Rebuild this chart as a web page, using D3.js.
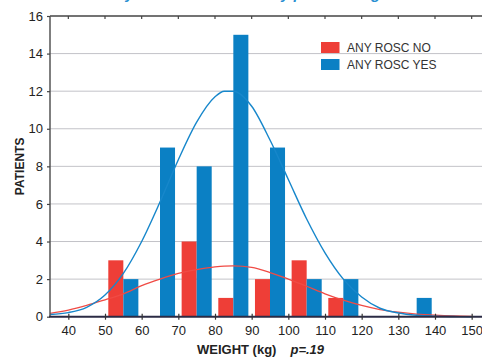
<!DOCTYPE html>
<html>
<head>
<meta charset="utf-8">
<script src="https://cdn.jsdelivr.net/npm/d3@7"></script>
<style>
  body { margin: 0; background: #fff; }
  svg { display: block; font-family: "Liberation Sans", Arial, sans-serif; }
</style>
</head>
<body>
<div id="chart"></div>
<script>
// Data
const binStarts = [50, 60, 70, 80, 90, 100, 110, 120, 130];
const roscNo = [3, 0, 4, 1, 2, 3, 1, 0, 0];
const roscYes = [2, 9, 8, 15, 9, 2, 2, 0, 1];

const curveWeights = [35, 40, 45, 50, 55, 60, 65, 70, 75, 80, 82.5, 85, 90, 95, 100, 105, 110, 115, 120, 125, 130, 135, 140, 145, 150];
const curveYes = [0.12, 0.22, 0.5, 1.15, 2.3, 4.0, 6.1, 8.35, 10.35, 11.7, 12.0, 12.0, 11.2, 9.4, 7.3, 5.2, 3.4, 2.0, 1.05, 0.45, 0.2, 0.08, 0.03, 0.01, 0];
const curveNo = [0.18, 0.35, 0.6, 0.9, 1.22, 1.65, 2.0, 2.3, 2.5, 2.65, 2.69, 2.7, 2.62, 2.35, 2.0, 1.62, 1.22, 0.88, 0.6, 0.38, 0.24, 0.14, 0.08, 0.04, 0.02];

const xTicks = [40, 50, 60, 70, 80, 90, 100, 110, 120, 130, 140, 150];
const yTicks = [0, 2, 4, 6, 8, 10, 12, 14, 16];
const legendLabels = ["ANY ROSC NO", "ANY ROSC YES"];

const RED = "#ee3e37";
const BLUE = "#0b80c4";

const W = 482, H = 363;
const svg = d3.select("#chart").append("svg")
    .attr("width", W)
    .attr("height", H);

const x = d3.scaleLinear().domain([35, 155]).range([50, 490]);
const y = d3.scaleLinear().domain([0, 16]).range([316.7, 16]);

// Title (only its lower edge shows at the top of the picture)
svg.append("text")
    .attr("x", 250)
    .attr("y", -1)
    .attr("text-anchor", "middle")
    .style("font-size", "15px")
    .style("font-weight", "bold")
    .style("font-style", "italic")
    .style("fill", "#2a8fd2")
    .text("Any ROSC distribution by patient weight");

// Gridlines
svg.append("g")
    .selectAll("line")
    .data(yTicks.filter(d => d > 0 && d < 16))
    .join("line")
    .attr("x1", 50).attr("x2", W)
    .attr("y1", d => y(d)).attr("y2", d => y(d))
    .style("stroke", "#c3c3c8")
    .style("stroke-width", 1);

// Bars
const bars = svg.append("g");
bars.selectAll("rect.no")
    .data(binStarts.map((b, i) => ({ b, v: roscNo[i] })).filter(d => d.v > 0))
    .join("rect")
    .attr("class", "no")
    .attr("x", d => x(d.b + 0.9))
    .attr("width", d => x(d.b + 5) - x(d.b + 0.9))
    .attr("y", d => y(d.v))
    .attr("height", d => y(0) - y(d.v))
    .style("fill", RED);

bars.selectAll("rect.yes")
    .data(binStarts.map((b, i) => ({ b, v: roscYes[i] })).filter(d => d.v > 0))
    .join("rect")
    .attr("class", "yes")
    .attr("x", d => x(d.b + 5))
    .attr("width", d => x(d.b + 9.1) - x(d.b + 5))
    .attr("y", d => y(d.v))
    .attr("height", d => y(0) - y(d.v))
    .style("fill", BLUE);

// Fitted curves
const line = d3.line()
    .x(d => x(d[0]))
    .y(d => y(d[1]))
    .curve(d3.curveMonotoneX);

svg.append("path")
    .datum(curveWeights.map((w, i) => [w, curveNo[i]]))
    .attr("d", line)
    .style("fill", "none")
    .style("stroke", "#f04b45")
    .style("stroke-width", 1.3);

svg.append("path")
    .datum(curveWeights.map((w, i) => [w, curveYes[i]]))
    .attr("d", line)
    .style("fill", "none")
    .style("stroke", "#1787cb")
    .style("stroke-width", 1.4);

// Axes frame
svg.append("line")
    .attr("x1", 50).attr("x2", W)
    .attr("y1", y(16)).attr("y2", y(16))
    .style("stroke", "#444").style("stroke-width", 1.5);

svg.append("line")
    .attr("x1", 50).attr("x2", 50)
    .attr("y1", y(16)).attr("y2", y(0))
    .style("stroke", "#555").style("stroke-width", 1.5);

svg.append("line")
    .attr("x1", 49).attr("x2", W)
    .attr("y1", y(0)).attr("y2", y(0))
    .style("stroke", "#2b2b45").style("stroke-width", 2);

// Top ticks (inward)
svg.append("g")
    .selectAll("line")
    .data(xTicks)
    .join("line")
    .attr("x1", d => x(d)).attr("x2", d => x(d))
    .attr("y1", y(16)).attr("y2", y(16) + 3)
    .style("stroke", "#444").style("stroke-width", 1.2);

// Bottom axis
const xAxis = svg.append("g")
    .attr("transform", `translate(0,${y(0)})`)
    .call(d3.axisBottom(x).tickValues(xTicks).tickSize(3).tickPadding(6));
xAxis.select(".domain").remove();
xAxis.selectAll("line").attr("y1", -3).style("stroke", "#333").style("stroke-width", 1.2);
xAxis.selectAll("text")
    .style("font-size", "13px")
    .style("font-family", "Liberation Sans, Arial, sans-serif")
    .style("fill", "#222");

// Left axis
const yAxis = svg.append("g")
    .attr("transform", "translate(50,0)")
    .call(d3.axisLeft(y).tickValues(yTicks).tickSize(3).tickPadding(4));
yAxis.select(".domain").remove();
yAxis.selectAll("line").style("stroke", "#444").style("stroke-width", 1.2);
yAxis.selectAll("text")
    .style("font-size", "13px")
    .style("font-family", "Liberation Sans, Arial, sans-serif")
    .style("fill", "#222");

// Axis titles
svg.append("text")
    .attr("transform", `translate(24,${(y(0) + y(16)) / 2}) rotate(-90)`)
    .attr("text-anchor", "middle")
    .style("font-size", "12px")
    .style("font-weight", "bold")
    .style("fill", "#222")
    .text("PATIENTS");

const xTitle = svg.append("text")
    .attr("x", 197)
    .attr("y", 354)
    .style("font-size", "13px")
    .style("font-weight", "bold")
    .style("fill", "#222");
xTitle.append("tspan").text("WEIGHT (kg)");
xTitle.append("tspan")
    .attr("dx", 14)
    .style("font-style", "italic")
    .text("p=.19");

// Legend
const legend = svg.append("g").attr("transform", "translate(321,42)");
legend.selectAll("rect")
    .data(legendLabels)
    .join("rect")
    .attr("x", 0)
    .attr("y", (d, i) => i * 17)
    .attr("width", 18.5)
    .attr("height", 11)
    .style("fill", (d, i) => i === 0 ? RED : BLUE);

legend.selectAll("text")
    .data(legendLabels)
    .join("text")
    .attr("x", 26)
    .attr("y", (d, i) => i * 17 + 10)
    .style("font-size", "12px")
    .style("fill", "#333")
    .text(d => d);
</script>
</body>
</html>
